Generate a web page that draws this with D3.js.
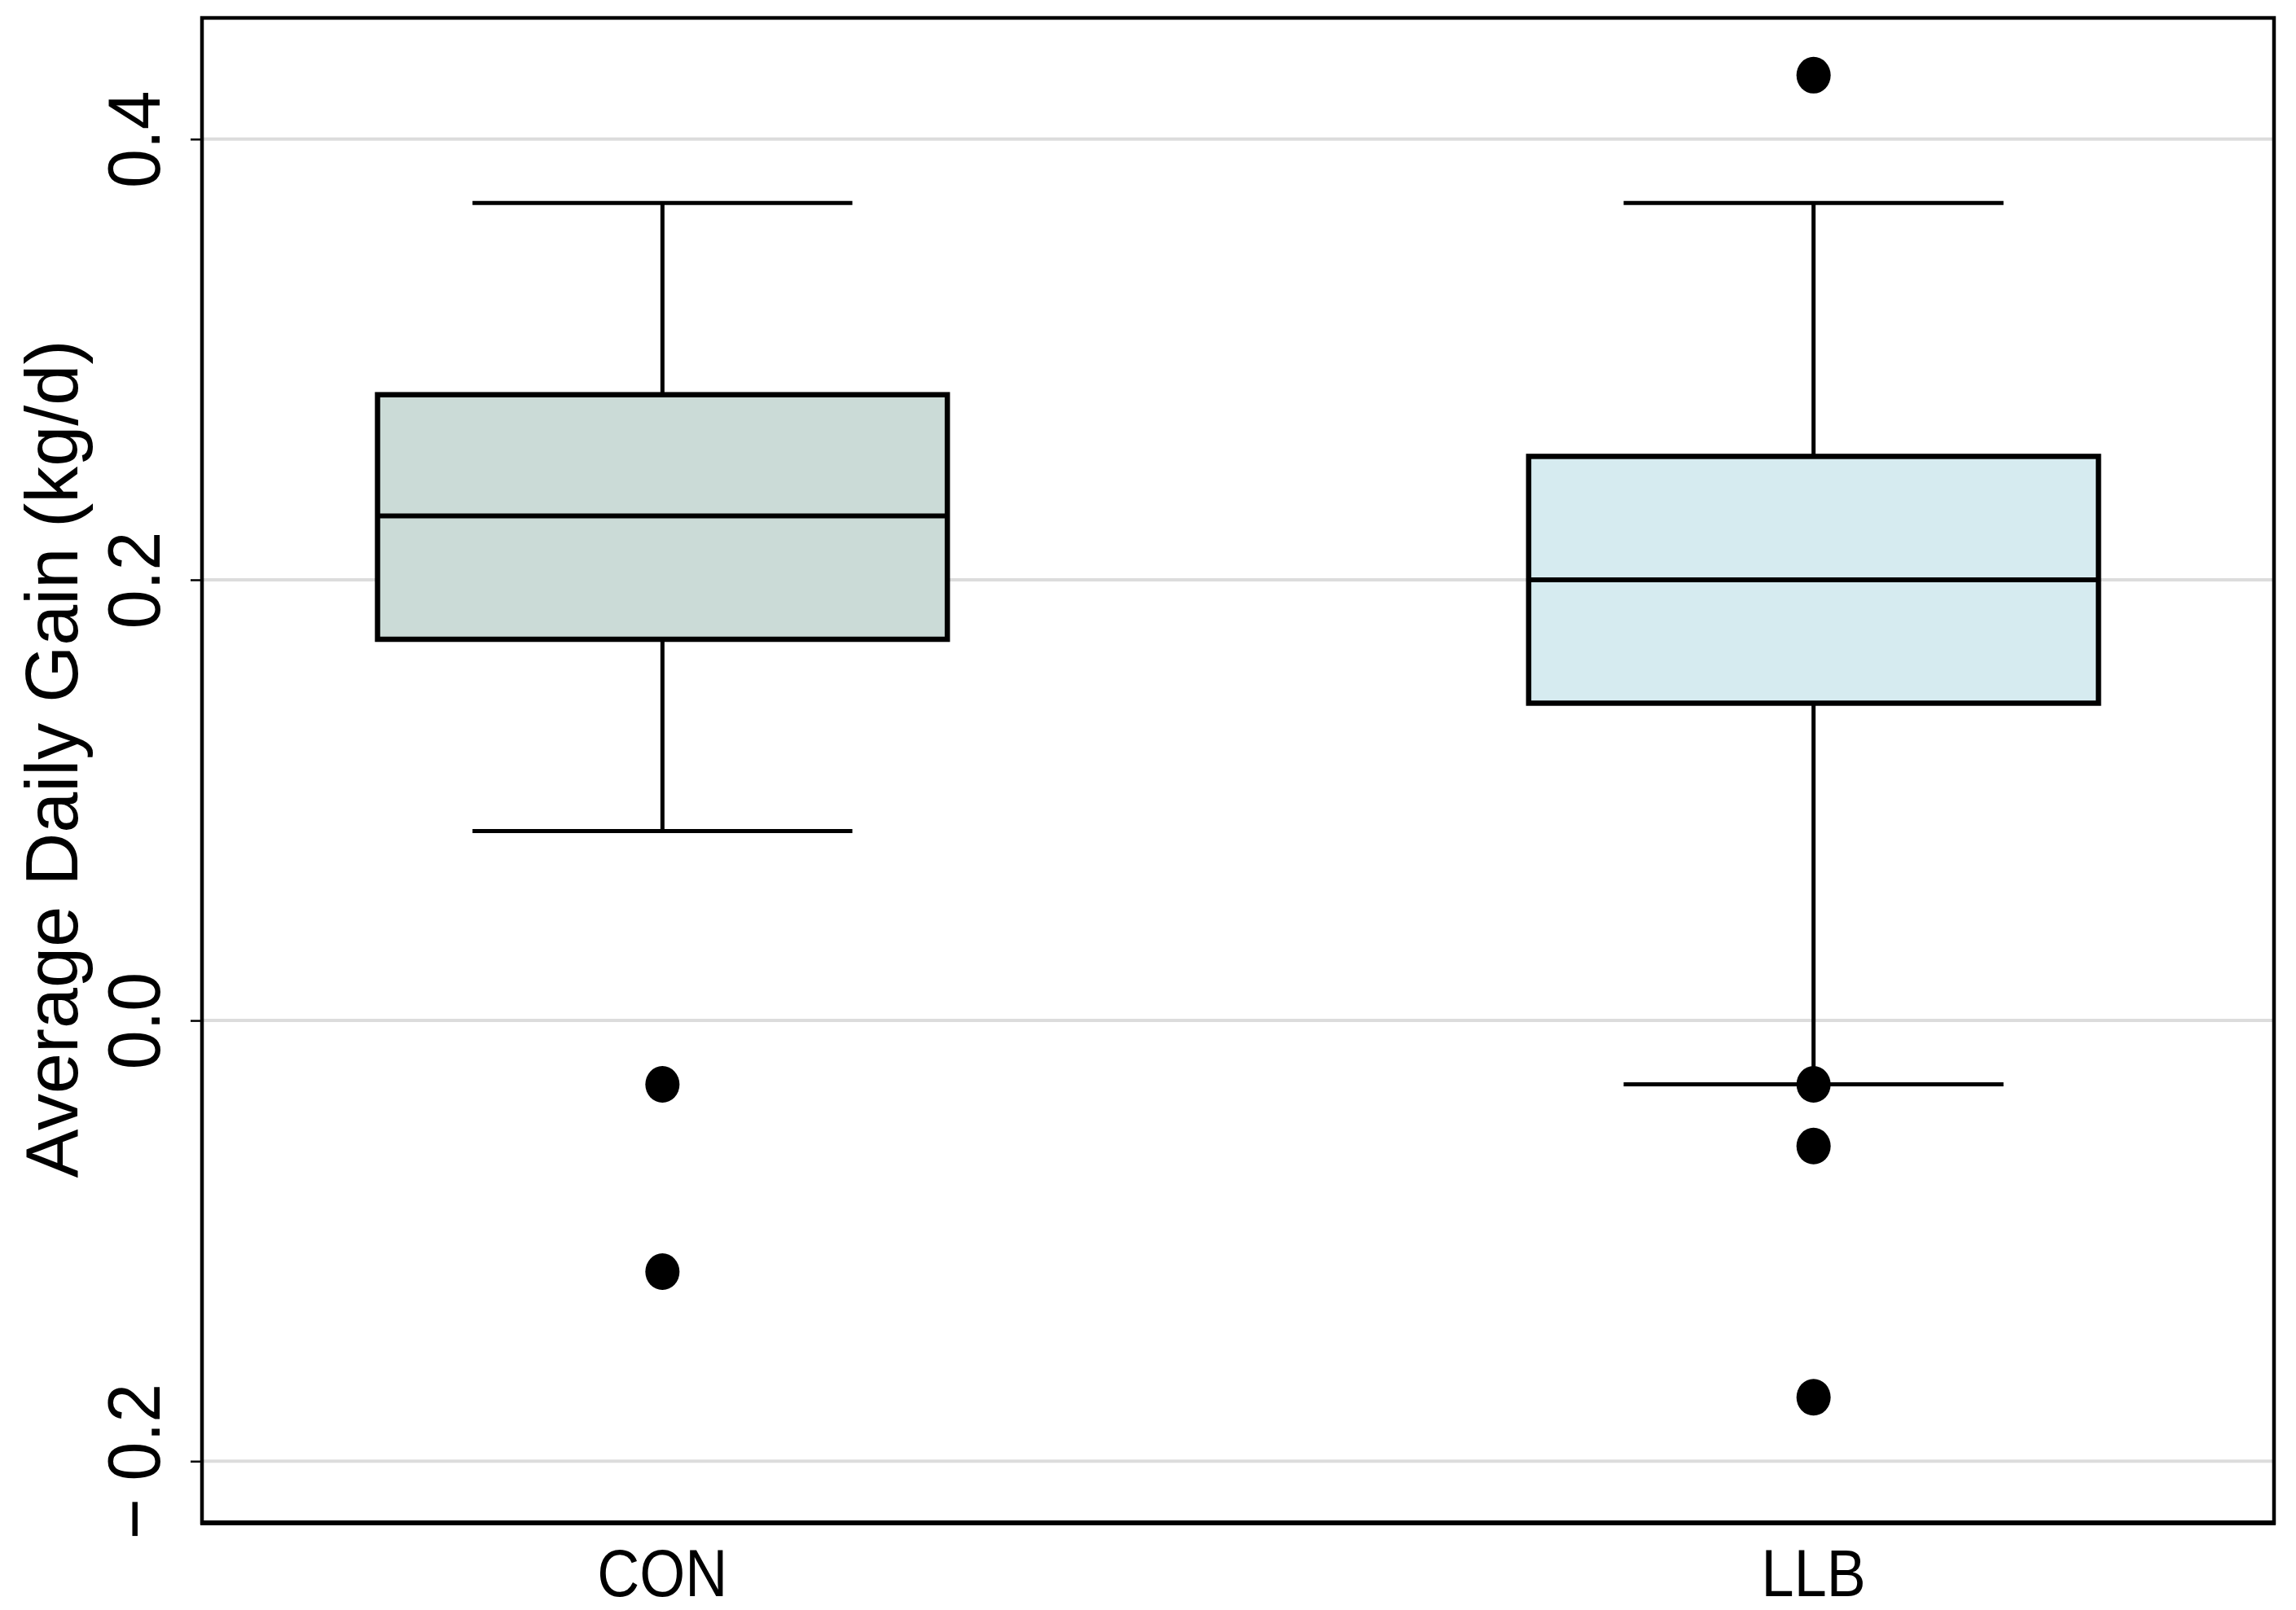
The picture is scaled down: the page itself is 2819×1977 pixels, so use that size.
<!DOCTYPE html>
<html>
<head>
<meta charset="utf-8">
<script src="https://cdn.jsdelivr.net/npm/d3@7"></script>
<style>
  html, body { margin: 0; padding: 0; background: #ffffff; }
  svg { display: block; }
  text { font-family: "Liberation Sans", Arial, Helvetica, sans-serif; fill: #000; }
</style>
</head>
<body>
<svg id="chart" width="2819" height="1977"></svg>
<script>
// ---- data ----
const categories = ["CON", "LLB"];
const fills = ["#cbdbd7", "#d6ebf0"];
const whiskerLow  = [0.086, -0.029];
const q1          = [0.173, 0.144];
const medians     = [0.229, 0.200];
const q3          = [0.284, 0.256];
const whiskerHigh = [0.371, 0.371];
const outliersCON = [-0.029, -0.114];
const outliersLLB = [0.429, -0.029, -0.057, -0.171];
const yTicks = [-0.2, 0.0, 0.2, 0.4];
const yLabel = "Average Daily Gain (kg/d)";

// ---- layout ----
const plotL = 248, plotR = 2792, plotT = 22, plotB = 1870;

const svg = d3.select("#chart");

const x = d3.scalePoint().domain(categories).range([plotL, plotR]).padding(0.4);
const y = d3.scaleLinear().domain([-0.228, 0.455]).range([plotB, plotT]);
const step = x.step();
const boxW = step * 0.495;
const capW = step * 0.33;

// gridlines
svg.append("g").selectAll("line").data(yTicks).join("line")
  .attr("x1", plotL).attr("x2", plotR)
  .attr("y1", d => y(d)).attr("y2", d => y(d))
  .attr("stroke", "#dcdcdc").attr("stroke-width", 4);

const boxes = categories.map((c, i) => ({
  c, fill: fills[i], lo: whiskerLow[i], q1: q1[i], med: medians[i], q3: q3[i], hi: whiskerHigh[i]
}));
const outliers = [
  ...outliersCON.map(v => ({c: "CON", v})),
  ...outliersLLB.map(v => ({c: "LLB", v}))
];

const g = svg.append("g");
// whisker stems
g.selectAll(".stemU").data(boxes).join("line")
  .attr("x1", d => x(d.c)).attr("x2", d => x(d.c))
  .attr("y1", d => y(d.hi)).attr("y2", d => y(d.q3))
  .attr("stroke", "#000").attr("stroke-width", 5);
g.selectAll(".stemL").data(boxes).join("line")
  .attr("x1", d => x(d.c)).attr("x2", d => x(d.c))
  .attr("y1", d => y(d.q1)).attr("y2", d => y(d.lo))
  .attr("stroke", "#000").attr("stroke-width", 5);
// caps
g.selectAll(".capU").data(boxes).join("line")
  .attr("x1", d => x(d.c) - capW / 2).attr("x2", d => x(d.c) + capW / 2)
  .attr("y1", d => y(d.hi)).attr("y2", d => y(d.hi))
  .attr("stroke", "#000").attr("stroke-width", 5);
g.selectAll(".capL").data(boxes).join("line")
  .attr("x1", d => x(d.c) - capW / 2).attr("x2", d => x(d.c) + capW / 2)
  .attr("y1", d => y(d.lo)).attr("y2", d => y(d.lo))
  .attr("stroke", "#000").attr("stroke-width", 5);
// boxes
g.selectAll(".box").data(boxes).join("rect")
  .attr("x", d => x(d.c) - boxW / 2).attr("width", boxW)
  .attr("y", d => y(d.q3)).attr("height", d => y(d.q1) - y(d.q3))
  .attr("fill", d => d.fill).attr("stroke", "#000").attr("stroke-width", 6.5);
// medians
g.selectAll(".med").data(boxes).join("line")
  .attr("x1", d => x(d.c) - boxW / 2).attr("x2", d => x(d.c) + boxW / 2)
  .attr("y1", d => y(d.med)).attr("y2", d => y(d.med))
  .attr("stroke", "#000").attr("stroke-width", 6);
// outliers
g.selectAll(".out").data(outliers).join("ellipse")
  .attr("cx", d => x(d.c)).attr("cy", d => y(d.v))
  .attr("rx", 21).attr("ry", 22.5).attr("fill", "#000");

// frame
svg.append("rect")
  .attr("x", plotL).attr("y", plotT).attr("width", plotR - plotL).attr("height", plotB - plotT)
  .attr("fill", "none").attr("stroke", "#000").attr("stroke-width", 4.5);
svg.append("line")
  .attr("x1", plotL - 2).attr("x2", plotR + 2).attr("y1", plotB).attr("y2", plotB)
  .attr("stroke", "#000").attr("stroke-width", 6);

// y axis ticks
const yAxis = svg.append("g").attr("transform", `translate(${plotL},0)`)
  .call(d3.axisLeft(y).tickValues(yTicks).tickSize(14).tickFormat(d => d3.format(".1f")(Math.abs(d))));
yAxis.select(".domain").remove();
yAxis.selectAll(".tick line").attr("stroke", "#000").attr("stroke-width", 2.5);
yAxis.selectAll(".tick text").remove();
yAxis.selectAll(".tick").each(function(d) {
  const t = d3.select(this).append("text")
    .attr("transform", "translate(-52,0) rotate(-90) scale(1.0,1.06)")
    .attr("text-anchor", "middle")
    .attr("font-size", 86)
    .attr("fill", "#000");
  if (d < 0) {
    t.append("tspan").text("\u2212");
    t.append("tspan").attr("dx", 22).text(d3.format(".1f")(Math.abs(d)));
  } else {
    t.text(d3.format(".1f")(d));
  }
});

// x labels
svg.append("g").selectAll("text").data(categories).join("text")
  .attr("transform", d => `translate(${x(d)},1960) scale(1,1.12)`)
  .attr("text-anchor", "middle")
  .attr("font-size", 72)
  .text(d => d);

// y title
svg.append("text")
  .attr("transform", "translate(95,932) rotate(-90)")
  .attr("text-anchor", "middle")
  .attr("font-size", 90)
  .text(yLabel);
</script>
</body>
</html>
